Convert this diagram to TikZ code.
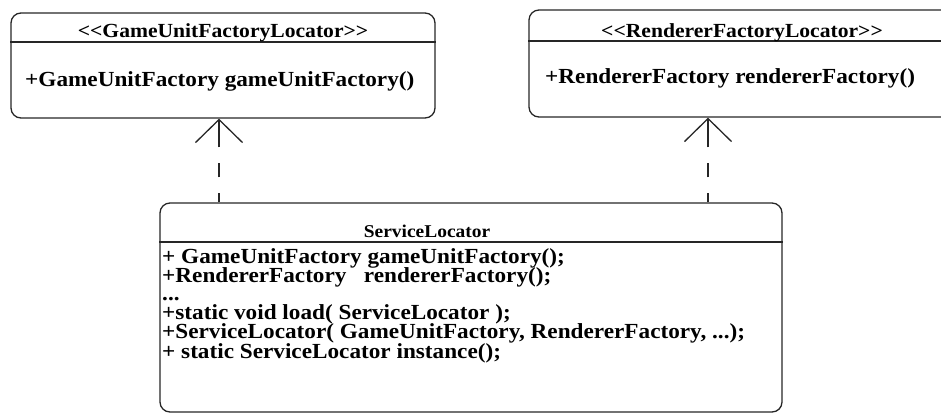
\documentclass[tikz,border=0pt]{standalone}
\usepackage{fontspec}
\setmainfont{Liberation Serif}[FakeStretch=1.08, Ligatures=TeXOff]
\usetikzlibrary{arrows.meta}

\tikzset{
  classbox/.style={draw=black!85, line width=1.3pt, rounded corners=10pt, inner sep=0pt},
  divider/.style={draw=black!85, line width=1.3pt},
  dep/.style={draw=black!85, line width=1.3pt,
    dash pattern=on 9pt off 16pt on 14pt off 16pt on 40pt,
    -{Straight Barb[length=23pt,width=47pt]}},
  hdr/.style={anchor=base, inner sep=0pt, text height=13pt, text depth=3pt,
    font=\fontsize{20}{22}\selectfont\bfseries},
  member/.style={anchor=base west, inner sep=0pt, text height=14pt, text depth=4pt,
    font=\fontsize{21.5}{19}\selectfont\bfseries},
}

\begin{document}
\begin{tikzpicture}[x=1pt, y=-1pt]
  \useasboundingbox (0,0) rectangle (941,418);

  % locator interfaces
  \node[classbox, minimum width=424pt, minimum height=105pt] (gufl) at (223,65.5) {};
  \draw[divider] (gufl.west |- 0,42) -- (gufl.east |- 0,42);
  \node[hdr] (gufl-name) at (223,37) {<<GameUnitFactoryLocator>>};
  \node[member] (gufl-op) at (25,86) {+GameUnitFactory gameUnitFactory()};

  \node[classbox, minimum width=431pt, minimum height=107pt] (rfl) at (744.5,63.5) {};
  \draw[divider] (rfl.west |- 0,41) -- (rfl.east |- 0,41);
  \node[hdr] (rfl-name) at (742,37) {<<RendererFactoryLocator>>};
  \node[member] (rfl-op) at (545,83) {+RendererFactory rendererFactory()};

  % service locator
  \node[classbox, minimum width=622pt, minimum height=209pt] (sl) at (471,307.5) {};
  \draw[divider] (sl.west |- 0,242) -- (sl.east |- 0,242);
  \node[hdr, font=\fontsize{18}{20}\selectfont\bfseries] (sl-name) at (427,237) {ServiceLocator};
  \node[member] (sl-op1) at (162,263) {+ GameUnitFactory gameUnitFactory();};
  \node[member] (sl-op2) at (162,282) {+RendererFactory\ \ \ rendererFactory();};
  \node[member] (sl-op3) at (162,300) {...};
  \node[member] (sl-op4) at (162,319) {+static void load( ServiceLocator );};
  \node[member] (sl-op5) at (162,338) {+ServiceLocator( GameUnitFactory, RendererFactory, ...);};
  \node[member] (sl-op6) at (162,358) {+ static ServiceLocator instance();};

  % realizations
  \draw[dep] (sl.north -| 219,0) -- (gufl.south -| 219,0);
  \draw[dep] (sl.north -| 708,0) -- (rfl.south -| 708,0);
\end{tikzpicture}
\end{document}
